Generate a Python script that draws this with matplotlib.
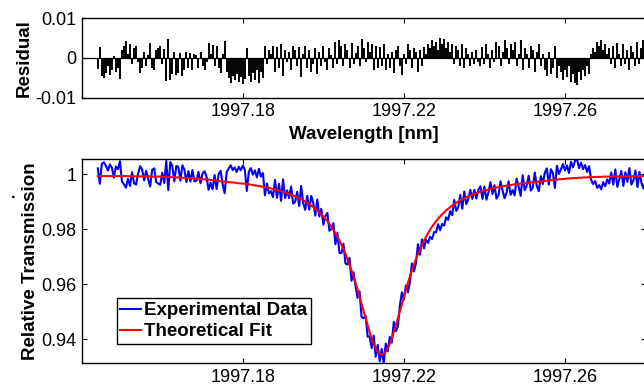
import numpy as np
import matplotlib.pyplot as plt

plt.rcParams['font.family'] = 'Liberation Sans'

# wavelength grid (nm)
wl_start = 1997.144
wl_step = 0.0005

# theoretical fit: depth below 1, in units of 1e-4
fit_dip = [
    6, 6, 6, 6, 6, 6, 6, 6, 6, 6, 6, 6, 6, 6, 6, 6,
    7, 7, 7, 7, 7, 7, 7, 7, 7, 7, 7,
    8, 8, 8, 8, 8, 9, 9, 9, 9, 10, 10, 10, 11, 11, 11,
    12, 12, 13, 13, 14, 14, 15, 15, 16, 17, 17, 18, 19, 19, 20, 21, 22, 23,
    24, 25, 26, 26, 27, 28, 29, 29, 30, 31, 32, 33, 33, 34, 35, 36, 37,
    39, 40, 41, 42, 43, 45, 46, 48, 49, 51, 53, 55, 57, 59, 61, 63, 66, 68,
    71, 74, 76, 80, 83, 87, 90, 94, 99, 103, 108, 113, 119, 125, 131, 138,
    145, 153, 161, 170, 180, 190, 202, 214, 227, 241, 256, 272, 289, 308,
    328, 349, 371, 394, 419, 445, 471, 498, 524, 550, 574, 597, 616, 633,
    645, 652,
    655,
    652, 645, 633, 616, 597, 574, 550, 524, 498, 471, 445, 419, 394, 371,
    349, 328, 308, 289, 272, 256, 241, 227, 214, 202, 190, 180, 170, 161,
    153, 145, 138, 131, 125, 119, 113, 108, 103, 99, 94, 90, 87, 83, 80, 76,
    74, 71, 68, 66, 63, 61, 59, 57, 55, 53, 51, 49, 48, 46, 45, 43, 42, 41,
    40, 39,
    37, 36, 35, 34, 33, 33, 32, 31, 30, 29, 29, 28, 27, 26, 26, 25, 24, 23,
    22, 21, 20, 19, 19, 18, 17, 17, 16, 15, 15, 14, 14, 13, 13, 12, 12,
    11, 11, 11, 10, 10, 10, 9, 9, 9, 9, 8, 8, 8, 8, 8,
    7, 7, 7, 7, 7, 7, 7, 7, 7, 7, 7,
    6, 6, 6, 6, 6, 6, 6, 6, 6, 6, 6, 6, 6,
]

# residual (fit - data), units of 1e-4
residual = [
    -28, 28, -45, -50, -38, -20, -42, -30, 5, -35, -25, -54, 20, 30, 42, 10, 35, -15, 25, 30,
    -10, -37, -25, 15, -20, 8, 37, -25, -30, 20, 25, 30, -15, 22, -58, 48, -55, -40, 15, -42,
    -38, 12, -45, -30, 15, -25, 12, -30, 10, 8, -25, 15, -20, -30, -10, 37, 10, 33, -20, 30,
    -25, -38, 10, 42, -35, -50, -62, -45, -55, -40, -60, -48, -65, -52, 25, -45, -60, -38, -55, -30,
    -62, -35, -50, 30, -15, 20, 10, 30, -35, 28, -25, 35, -45, 20, -10, 15, -30, 30, 20, -20,
    28, -48, 10, 30, -25, 20, -35, -15, 25, -40, 15, -20, 30, -10, -30, 25, 8, -25, 40, -15,
    45, 30, -20, 35, 20, -25, 38, -15, 12, 30, -20, 48, 25, -10, 40, 15, 35, -30, 30, -25,
    28, -20, 35, -30, 10, -25, 15, -38, 20, 30, -20, -42, 10, -15, 35, 20, -25, 25, 15, -35,
    20, -20, 28, 10, 35, 25, 45, 30, 40, 20, 50, 35, 48, 25, 40, 15, 35, -15, 30, 20,
    -20, 35, -25, 25, 10, -20, 15, -15, 20, -10, -20, 28, -15, 35, 10, -25, 20, -10, 40, 30,
    -20, 15, 45, 25, -15, 35, 20, 40, -20, 10, 45, -30, 25, 10, -25, 30, 20, -35, 15, 35,
    -20, 10, -30, -45, 15, -40, -25, 30, -50, -20, -35, -55, -30, -48, -20, -60, -40, -62, -68, -35,
    -55, -30, -45, -20, -40, 10, 25, 15, 40, 30, 45, 20, 35, 10, 25, -15, 30, -25, 38, 10,
    -20, 35, -15, 20, -30, 30, 15, -20, 40, -15, 25, 45, 20, -10, 30, -20, 25, 15, -15, 30,
]

xticks = [1997.18, 1997.22, 1997.26]
xticklabels = ['1997.18', '1997.22', '1997.26']

wl = wl_start + wl_step * np.arange(len(fit_dip))
fit = 1 - np.array(fit_dip) * 1e-4
res = np.array(residual) * 1e-4
data = fit - res

W, H = 644, 386
fig = plt.figure(figsize=(W / 100, H / 100), dpi=100)
ax1 = fig.add_axes([81.7 / W, 1 - 97.7 / H, (645.5 - 81.7) / W, (97.7 - 18.3) / H])
ax2 = fig.add_axes([81.7 / W, 1 - 363.3 / H, (645.5 - 81.7) / W, (363.3 - 159.3) / H])

# residual panel
ax1.vlines(wl, 0, res, color='k', lw=1.4)
ax1.axhline(0, color='k', lw=0.9)
ax1.set_ylim(-0.01, 0.01)
ax1.set_yticks([-0.01, 0, 0.01])
ax1.set_yticklabels(['-0.01', '0', '0.01'])
ax1.set_xlabel('Wavelength [nm]', fontsize=13.5, fontweight='bold', labelpad=4)
ax1.set_ylabel('Residual', fontsize=13.5, fontweight='bold')
ax1.yaxis.set_label_coords(-0.0865, 0.5)

# transmission panel
ax2.plot(wl, data, color='blue', lw=1.5, label='Experimental Data')
ax2.plot(wl, fit, color='red', lw=1.5, label='Theoretical Fit')
ax2.set_ylim(0.9313, 1.0055)
ax2.set_yticks([0.94, 0.96, 0.98, 1])
ax2.set_yticklabels(['0.94', '0.96', '0.98', '1'])
ax2.set_ylabel('Relative Transmission', fontsize=13.5, fontweight='bold')
ax2.yaxis.set_label_coords(-0.0758, 0.5)

for ax in (ax1, ax2):
    ax.set_xlim(1997.14, 1997.28)
    ax.set_xticks(xticks)
    ax.set_xticklabels(xticklabels)
    ax.tick_params(direction='in', top=True, right=True, length=3.5,
                   width=0.8, labelsize=13, pad=4)
    for s in ax.spines.values():
        s.set_linewidth(1.0)

leg = ax2.legend(loc='lower left', bbox_to_anchor=(0.062, 0.095), borderaxespad=0,
                 fancybox=False, edgecolor='k', framealpha=1,
                 prop={'weight': 'bold', 'size': 13.5}, handlelength=1.1,
                 handletextpad=0.15, borderpad=0.2, labelspacing=0.2)
leg.get_frame().set_linewidth(1.0)

fig.text(13.3 / W, 1 - 197.7 / H, '\u00b7', ha='center', va='center',
         fontsize=12, fontweight='bold')

fig.savefig('out.png', dpi=100)
